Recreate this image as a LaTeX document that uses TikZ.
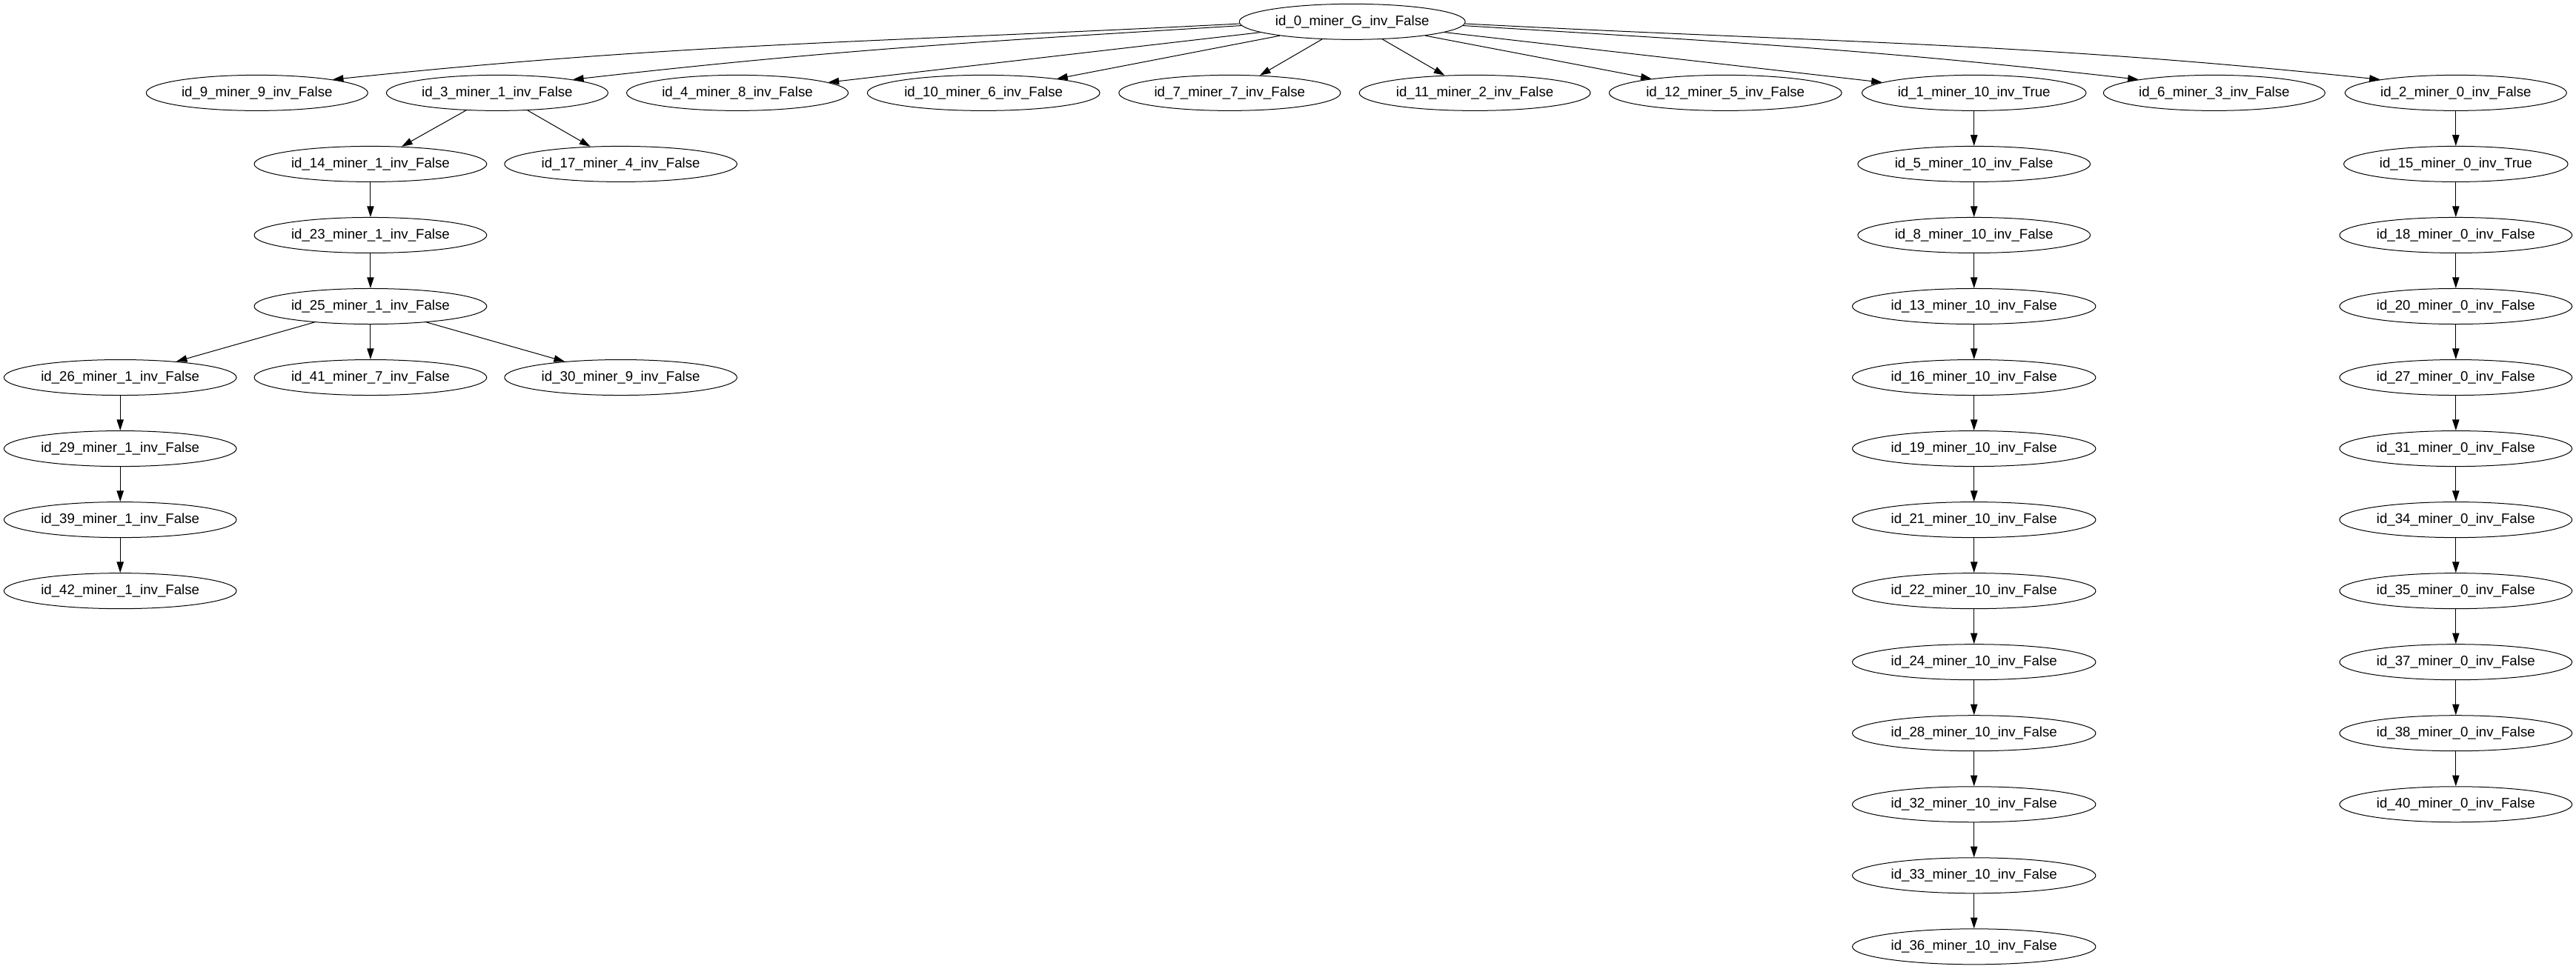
\documentclass[tikz,border=0pt]{standalone}
\usepackage{fontspec}
\setmainfont{Liberation Sans}
\usetikzlibrary{arrows.meta, shapes.geometric}

\begin{document}
\begin{tikzpicture}[
    x=1pt, y=1pt,
    >={Triangle[length=11pt, width=7pt]},
    miner/.style={draw, ellipse, line width=0.75pt, inner xsep=3pt, inner ysep=0pt,
                  minimum height=36pt, font=\fontsize{14pt}{16pt}\selectfont},
    link/.style={->, line width=0.75pt}
]

% === frame ===
\useasboundingbox (0,0) rectangle (2606,-980);

% === root ===
\node[miner] (id0) at (1368,-22) {id\_0\_miner\_G\_inv\_False};

% === rank 1 ===
\node[miner] (id9)  at (260,-94)    {id\_9\_miner\_9\_inv\_False};
\node[miner] (id3)  at (503,-94)    {id\_3\_miner\_1\_inv\_False};
\node[miner] (id4)  at (746,-94)    {id\_4\_miner\_8\_inv\_False};
\node[miner] (id10) at (995,-94)    {id\_10\_miner\_6\_inv\_False};
\node[miner] (id7)  at (1244,-94)   {id\_7\_miner\_7\_inv\_False};
\node[miner] (id11) at (1492,-94)   {id\_11\_miner\_2\_inv\_False};
\node[miner] (id12) at (1745.5,-94) {id\_12\_miner\_5\_inv\_False};
\node[miner] (id1)  at (1997,-94)   {id\_1\_miner\_10\_inv\_True};
\node[miner] (id6)  at (2240,-94)   {id\_6\_miner\_3\_inv\_False};
\node[miner] (id2)  at (2484.4,-94) {id\_2\_miner\_0\_inv\_False};

% === miner 1 branch ===
\node[miner] (id14) at (374.8,-166) {id\_14\_miner\_1\_inv\_False};
\node[miner] (id17) at (628,-166)   {id\_17\_miner\_4\_inv\_False};
\node[miner] (id23) at (374.8,-238) {id\_23\_miner\_1\_inv\_False};
\node[miner] (id25) at (374.8,-310) {id\_25\_miner\_1\_inv\_False};
\node[miner] (id26) at (121.6,-382) {id\_26\_miner\_1\_inv\_False};
\node[miner] (id41) at (374.8,-382) {id\_41\_miner\_7\_inv\_False};
\node[miner] (id30) at (628,-382)   {id\_30\_miner\_9\_inv\_False};
\node[miner] (id29) at (121.6,-454) {id\_29\_miner\_1\_inv\_False};
\node[miner] (id39) at (121.6,-526) {id\_39\_miner\_1\_inv\_False};
\node[miner] (id42) at (121.6,-598) {id\_42\_miner\_1\_inv\_False};

% === miner 10 chain ===
\node[miner] (id5)  at (1997,-166) {id\_5\_miner\_10\_inv\_False};
\node[miner] (id8)  at (1997,-238) {id\_8\_miner\_10\_inv\_False};
\node[miner] (id13) at (1997,-310) {id\_13\_miner\_10\_inv\_False};
\node[miner] (id16) at (1997,-382) {id\_16\_miner\_10\_inv\_False};
\node[miner] (id19) at (1997,-454) {id\_19\_miner\_10\_inv\_False};
\node[miner] (id21) at (1997,-526) {id\_21\_miner\_10\_inv\_False};
\node[miner] (id22) at (1997,-598) {id\_22\_miner\_10\_inv\_False};
\node[miner] (id24) at (1997,-670) {id\_24\_miner\_10\_inv\_False};
\node[miner] (id28) at (1997,-742) {id\_28\_miner\_10\_inv\_False};
\node[miner] (id32) at (1997,-814) {id\_32\_miner\_10\_inv\_False};
\node[miner] (id33) at (1997,-886) {id\_33\_miner\_10\_inv\_False};
\node[miner] (id36) at (1997,-958) {id\_36\_miner\_10\_inv\_False};

% === miner 0 chain ===
\node[miner] (id15) at (2484.4,-166) {id\_15\_miner\_0\_inv\_True};
\node[miner] (id18) at (2484.4,-238) {id\_18\_miner\_0\_inv\_False};
\node[miner] (id20) at (2484.4,-310) {id\_20\_miner\_0\_inv\_False};
\node[miner] (id27) at (2484.4,-382) {id\_27\_miner\_0\_inv\_False};
\node[miner] (id31) at (2484.4,-454) {id\_31\_miner\_0\_inv\_False};
\node[miner] (id34) at (2484.4,-526) {id\_34\_miner\_0\_inv\_False};
\node[miner] (id35) at (2484.4,-598) {id\_35\_miner\_0\_inv\_False};
\node[miner] (id37) at (2484.4,-670) {id\_37\_miner\_0\_inv\_False};
\node[miner] (id38) at (2484.4,-742) {id\_38\_miner\_0\_inv\_False};
\node[miner] (id40) at (2484.4,-814) {id\_40\_miner\_0\_inv\_False};

% === fan out of the root ===
\draw[link] (id0.181) to[out=183, in=6] (id9.10);
\draw[link] (id0.182) to[out=183.5, in=6.5] (id3.10);
\draw[link] (id0) -- (id4);
\draw[link] (id0) -- (id10);
\draw[link] (id0) -- (id7);
\draw[link] (id0) -- (id11);
\draw[link] (id0) -- (id12);
\draw[link] (id0) -- (id1);
\draw[link] (id0.358) to[out=-3.5, in=173.5] (id6.170);
\draw[link] (id0.359) to[out=-3, in=174] (id2.170);

% === miner 1 branch ===
\draw[link] (id3) -- (id14);
\draw[link] (id3) -- (id17);
\draw[link] (id14) -- (id23);
\draw[link] (id23) -- (id25);
\draw[link] (id25) -- (id26);
\draw[link] (id25) -- (id41);
\draw[link] (id25) -- (id30);
\draw[link] (id26) -- (id29);
\draw[link] (id29) -- (id39);
\draw[link] (id39) -- (id42);

% === miner 10 chain ===
\draw[link] (id1) -- (id5);
\draw[link] (id5) -- (id8);
\draw[link] (id8) -- (id13);
\draw[link] (id13) -- (id16);
\draw[link] (id16) -- (id19);
\draw[link] (id19) -- (id21);
\draw[link] (id21) -- (id22);
\draw[link] (id22) -- (id24);
\draw[link] (id24) -- (id28);
\draw[link] (id28) -- (id32);
\draw[link] (id32) -- (id33);
\draw[link] (id33) -- (id36);

% === miner 0 chain ===
\draw[link] (id2) -- (id15);
\draw[link] (id15) -- (id18);
\draw[link] (id18) -- (id20);
\draw[link] (id20) -- (id27);
\draw[link] (id27) -- (id31);
\draw[link] (id31) -- (id34);
\draw[link] (id34) -- (id35);
\draw[link] (id35) -- (id37);
\draw[link] (id37) -- (id38);
\draw[link] (id38) -- (id40);

\end{tikzpicture}
\end{document}
